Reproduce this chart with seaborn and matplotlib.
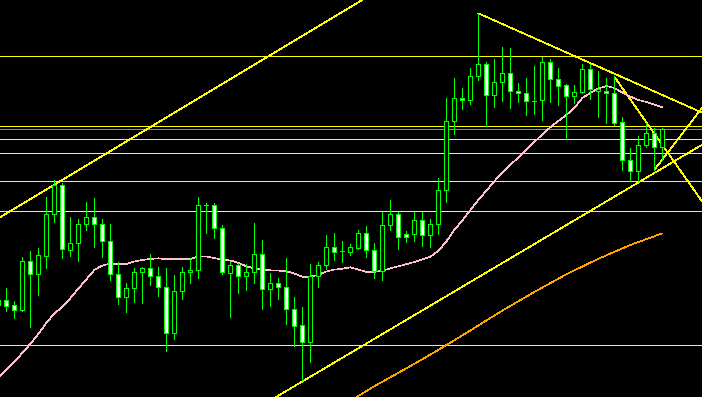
import numpy as np
import pandas as pd
import matplotlib
matplotlib.use("Agg")
import matplotlib.pyplot as plt
import seaborn as sns

# ---------------- data (bar index -1 .. 82) ----------------
bars = list(range(-1, 83))
opens = [110.950, 111.000, 110.950, 110.903, 111.390, 111.257, 111.443, 111.857, 112.150, 111.503,
         111.567, 111.757, 111.827, 111.757, 111.587, 111.257, 111.027, 111.117, 111.277, 111.317,
         111.237, 111.127, 110.667, 111.087, 111.277, 111.297, 111.947, 111.947, 111.715, 111.273,
         111.350, 111.243, 111.277, 111.460, 111.113, 111.167, 111.127, 110.907, 110.750, 110.583,
         111.240, 111.350, 111.527, 111.485, 111.483, 111.523, 111.667, 111.497, 111.293, 111.747,
         111.857, 111.660, 111.660, 111.797, 111.653, 111.757, 112.097, 112.787, 113.017, 112.997,
         113.237, 113.357, 113.047, 113.177, 113.267, 113.087, 113.067, 112.992, 112.997, 113.377,
         113.207, 113.147, 113.037, 113.083, 113.307, 113.087, 113.087, 113.067, 112.777, 112.400,
         112.287, 112.547, 112.667, 112.527]
highs = [111.020, 111.120, 110.990, 111.427, 111.490, 111.520, 112.030, 112.200, 112.173, 111.827,
         111.807, 111.977, 112.020, 111.807, 111.757, 111.377, 111.167, 111.317, 111.327, 111.460,
         111.327, 111.317, 111.247, 111.327, 111.417, 112.030, 111.967, 111.967, 111.750, 111.387,
         111.367, 111.360, 111.773, 111.600, 111.270, 111.220, 111.420, 111.030, 110.930, 111.360,
         111.380, 111.650, 111.667, 111.587, 111.560, 111.700, 111.740, 111.570, 111.883, 112.000,
         111.883, 111.690, 111.883, 111.883, 111.813, 112.220, 113.020, 113.217, 113.117, 113.317,
         113.867, 113.377, 113.410, 113.530, 113.520, 113.167, 113.217, 113.340, 113.433, 113.407,
         113.317, 113.157, 113.150, 113.360, 113.360, 113.290, 113.217, 113.240, 112.827, 112.517,
         112.637, 112.767, 112.717, 112.717]
lows = [110.920, 110.890, 110.823, 110.890, 110.733, 111.053, 111.323, 111.783, 111.423, 111.440,
        111.393, 111.700, 111.533, 111.433, 111.200, 110.963, 110.883, 110.983, 110.973, 111.150,
        111.043, 110.493, 110.607, 111.013, 111.173, 111.223, 111.667, 111.623, 111.260, 110.833,
        111.073, 111.100, 111.173, 110.913, 110.940, 111.013, 110.760, 110.543, 110.185, 110.383,
        111.133, 111.307, 111.400, 111.383, 111.453, 111.507, 111.433, 111.223, 111.200, 111.700,
        111.510, 111.580, 111.590, 111.543, 111.533, 111.663, 111.983, 112.663, 112.913, 112.963,
        113.200, 112.740, 112.933, 112.993, 112.923, 112.983, 112.853, 112.863, 112.803, 112.983,
        112.953, 112.610, 112.967, 113.067, 113.007, 112.833, 112.767, 112.750, 112.300, 112.187,
        112.187, 112.527, 112.300, 112.400]
closes = [111.000, 110.940, 110.903, 111.390, 111.257, 111.447, 111.860, 112.150, 111.507, 111.567,
          111.757, 111.827, 111.757, 111.587, 111.257, 111.027, 111.117, 111.277, 111.317, 111.237,
          111.127, 110.667, 111.087, 111.277, 111.297, 111.947, 111.947, 111.715, 111.277, 111.350,
          111.243, 111.277, 111.460, 111.113, 111.170, 111.127, 110.907, 110.743, 110.583, 111.243,
          111.350, 111.527, 111.477, 111.485, 111.527, 111.667, 111.497, 111.293, 111.747, 111.857,
          111.627, 111.627, 111.797, 111.653, 111.757, 112.097, 112.787, 113.017, 112.997, 113.237,
          113.357, 113.047, 113.177, 113.267, 113.087, 113.067, 112.987, 112.992, 113.377, 113.207,
          113.137, 113.037, 113.077, 113.307, 113.107, 113.107, 113.067, 112.773, 112.397, 112.287,
          112.547, 112.667, 112.527, 112.707]

# fast moving average (pink), one value per bar
ma_fast = [110.22, 110.30, 110.38, 110.47, 110.56, 110.66, 110.77, 110.865, 110.93, 111.017,
           111.113, 111.206, 111.30, 111.345, 111.365, 111.358, 111.36, 111.385, 111.40, 111.41,
           111.417, 111.407, 111.407, 111.407, 111.407, 111.437, 111.435, 111.42, 111.402, 111.395,
           111.372, 111.337, 111.317, 111.302, 111.297, 111.294, 111.287, 111.265, 111.233, 111.233,
           111.252, 111.285, 111.304, 111.312, 111.327, 111.304, 111.282, 111.282, 111.292, 111.317,
           111.337, 111.358, 111.38, 111.407, 111.434, 111.49, 111.585, 111.70, 111.796, 111.898,
           112.00, 112.093, 112.186, 112.277, 112.351, 112.425, 112.50, 112.58, 112.656, 112.727,
           112.79, 112.85, 112.92, 113.02, 113.07, 113.115, 113.14, 113.12, 113.075, 113.035,
           113.00, 112.98, 112.955, 112.927]

# slow moving average (orange)
ma_slow_bars = [43, 46, 50, 54, 58, 62, 66, 70, 74, 78, 82]
ma_slow = [109.99, 110.138, 110.316, 110.50, 110.695, 110.894, 111.08, 111.257, 111.412, 111.55, 111.667]

# horizontal levels
levels = [113.435, 112.735, 112.605, 112.465, 112.19, 111.89, 110.55]
gray_level = 112.705

# trend lines: (bar1, price1, bar2, price2, ray)
trendlines = [
    (0, 111.865, 40, 113.785, False),
    (59, 113.867, 82, 113.050, True),
    (76, 113.233, 82, 112.551, True),
    (37, 110.185, 79, 112.175, False),
    (81, 112.300, 86, 112.820, True),
]

# ---------------- style ----------------
sns.set_style("dark", {"axes.facecolor": "black", "figure.facecolor": "black"})
GREEN = "#00FF00"
YELLOW = "#FFFF00"
PX = 0.72   # 1 pixel at 100 dpi
THIN = 0.45  # thin diagonal lines

fig = plt.figure(figsize=(7.02, 3.97), dpi=100, facecolor="black")
ax = fig.add_axes([0, 0, 1, 1])
ax.set_facecolor("black")
for s in ax.spines.values():
    s.set_visible(False)
ax.set_xticks([])
ax.set_yticks([])
ax.grid(False)

xmin, xmax = -0.7875, 86.9625
ax.set_xlim(xmin, xmax)
ax.set_ylim(110.03, 114.00)

df = pd.DataFrame({"bar": bars, "open": opens, "high": highs, "low": lows, "close": closes})

# levels
for lv in levels:
    ax.axhline(lv, color=YELLOW, lw=PX, antialiased=False, zorder=1)
ax.axhline(gray_level, color="#8C8C8C", lw=PX, antialiased=False, zorder=1)

# trend lines
for b1, p1, b2, p2, ray in trendlines:
    if ray:
        slope = (p2 - p1) / (b2 - b1)
        ax.plot([b1, xmax + 1], [p1, p1 + slope * (xmax + 1 - b1)], color=YELLOW, lw=THIN,
                antialiased=False, zorder=1)
    else:
        ax.axline((b1, p1), (b2, p2), color=YELLOW, lw=THIN, antialiased=False, zorder=1)

# moving averages via seaborn
sns.lineplot(x=bars, y=ma_fast, ax=ax, color="#FFC0CB", lw=THIN, antialiased=False, zorder=2)
sns.lineplot(x=ma_slow_bars, y=ma_slow, ax=ax, color="#FFA500", lw=THIN, antialiased=False, zorder=2)

# candles
ax.vlines(df["bar"], df["low"], df["high"], color=GREEN, lw=PX, antialiased=False, zorder=3)
bottoms = np.minimum(df["open"], df["close"])
heights = np.abs(df["close"] - df["open"])
faces = ["black" if c > o else ("white" if c < o else GREEN) for o, c in zip(df["open"], df["close"])]
ax.bar(df["bar"], heights, bottom=bottoms, width=0.5, color=faces, edgecolor=GREEN,
       linewidth=PX, antialiased=False, zorder=4)

fig.savefig("out.png", dpi=100, facecolor="black")
